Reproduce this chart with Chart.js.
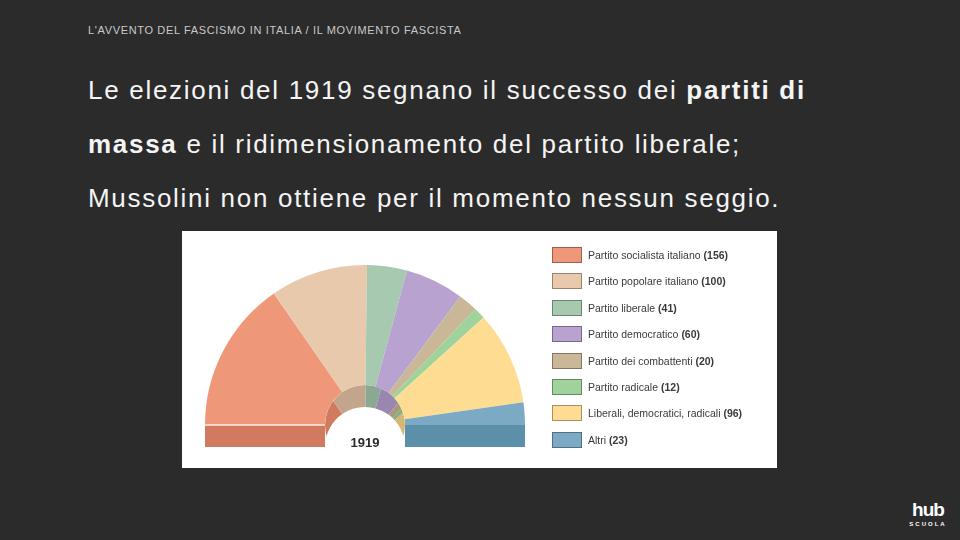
<!DOCTYPE html>
<html lang="it">
<head>
<meta charset="utf-8">
<title>Le elezioni del 1919</title>
<script src="https://cdn.jsdelivr.net/npm/chart.js@4.4.1/dist/chart.umd.min.js"></script>
<style>
  html, body { margin: 0; padding: 0; }
  body {
    width: 960px; height: 540px; overflow: hidden;
    background: #2b2b2b; position: relative;
    font-family: "Liberation Sans", Arial, sans-serif;
  }
  .header {
    position: absolute; left: 88px; top: 24px;
    font-size: 11px; line-height: 13px; color: #c9c9c9;
    letter-spacing: 0.65px; white-space: nowrap;
  }
  .lead {
    position: absolute; left: 88px; top: 63px;
    font-size: 26px; line-height: 54px; color: #f4f4f4;
    letter-spacing: 1.7px; white-space: nowrap;
  }
  .panel {
    position: absolute; left: 182px; top: 231px;
    width: 595px; height: 237px; background: #fff;
  }
  .panel canvas { position: absolute; left: 0; top: 0; }
  #legend {
    position: absolute; left: 370px; top: 10.8px;
    margin: 0; padding: 0; list-style: none;
    font-size: 10.5px; color: #3a3a3a;
  }
  #legend li { height: 26.4px; display: flex; align-items: center; }
  #legend .box {
    width: 28px; height: 14px; margin-right: 6px;
    border: 1px solid rgba(0, 0, 0, 0.35);
  }
  .logo {
    position: absolute; left: 906px; top: 500px; width: 44px;
    color: #fff; text-align: center;
  }
  .logo .hub { font-size: 19px; font-weight: bold; line-height: 20px; letter-spacing: -1px; }
  .logo .sc { font-size: 6px; font-weight: bold; letter-spacing: 2px; line-height: 8px; }
</style>
</head>
<body>
<div class="header">L'AVVENTO DEL FASCISMO IN ITALIA / IL MOVIMENTO FASCISTA</div>
<div class="lead">
  Le elezioni del 1919 segnano il successo dei <b>partiti di</b><br>
  <b>massa</b> e il ridimensionamento del partito liberale;<br>
  Mussolini non ottiene per il momento nessun seggio.
</div>

<div class="panel">
  <div style="position:absolute;left:0;top:0;width:595px;height:237px;">
    <canvas id="seatsChart"></canvas>
  </div>
  <ul id="legend"></ul>
</div>

<div class="logo"><div class="hub">hub</div><div class="sc">SCUOLA</div></div>

<script>
// seggi alla Camera, elezioni 1919
const parties = [
  'Partito socialista italiano',
  'Partito popolare italiano',
  'Partito liberale',
  'Partito democratico',
  'Partito dei combattenti',
  'Partito radicale',
  'Liberali, democratici, radicali',
  'Altri'
];
const seats = [156, 100, 41, 60, 20, 12, 96, 23];
const topColors = ['#ef9879', '#e9c9ac', '#a7c9af', '#b8a2cf', '#c9b797', '#a0d39b', '#fedd92', '#7caac5'];
const sideColors = ['#d27a5f', '#c2a58b', '#8ba893', '#9a87b0', '#a8987c', '#84b080', '#d5b676', '#5b8faa'];
const yearLabel = '1919';

// legend
const legend = document.getElementById('legend');
parties.forEach((name, i) => {
  const li = document.createElement('li');
  li.innerHTML = '<span class="box" style="background:' + topColors[i] + '"></span>' +
    '<span>' + name + ' <b>(' + seats[i] + ')</b></span>';
  legend.appendChild(li);
});

// fake 3D: inner wall seen through the hole + the two flat bottom faces
const extrude = {
  id: 'extrude',
  beforeDatasetsDraw(chart, args, opts) {
    const ctx = chart.ctx;
    const arcs = chart.getDatasetMeta(0).data;
    const first = arcs[0], last = arcs[arcs.length - 1];
    const d = opts.depth;

    ctx.save();
    ctx.beginPath();
    ctx.arc(first.x, first.y, first.innerRadius, 0, Math.PI * 2);
    ctx.clip();
    arcs.forEach((a, i) => {
      ctx.beginPath();
      ctx.arc(a.x, a.y + d, a.outerRadius, a.startAngle, a.endAngle);
      ctx.arc(a.x, a.y + d, a.innerRadius, a.endAngle, a.startAngle, true);
      ctx.closePath();
      ctx.fillStyle = sideColors[i];
      ctx.fill();
    });
    ctx.restore();

    ctx.save();
    ctx.fillStyle = sideColors[0];
    ctx.fillRect(first.x - first.outerRadius, first.y, first.outerRadius - first.innerRadius, d);
    ctx.fillStyle = sideColors[arcs.length - 1];
    ctx.fillRect(last.x + last.innerRadius, last.y, last.outerRadius - last.innerRadius, d);
    ctx.restore();
  },
  afterDatasetsDraw(chart, args, opts) {
    const ctx = chart.ctx;
    const a = chart.getDatasetMeta(0).data[0];
    ctx.save();
    // light edge between top face and side on the left
    ctx.strokeStyle = 'rgba(255,255,255,0.85)';
    ctx.lineWidth = 1.5;
    ctx.beginPath();
    ctx.moveTo(a.x - a.outerRadius, a.y);
    ctx.lineTo(a.x - a.innerRadius, a.y);
    ctx.stroke();
    // year in the middle
    ctx.fillStyle = '#2a2a2a';
    ctx.font = 'bold 13px "Liberation Sans", Arial, sans-serif';
    ctx.textAlign = 'center';
    ctx.textBaseline = 'alphabetic';
    ctx.fillText(yearLabel, a.x, a.y + opts.depth);
    ctx.restore();
  }
};

new Chart(document.getElementById('seatsChart'), {
  type: 'doughnut',
  data: {
    labels: parties,
    datasets: [{
      data: seats,
      backgroundColor: topColors,
      borderWidth: 0
    }]
  },
  options: {
    responsive: true,
    maintainAspectRatio: false,
    animation: false,
    rotation: -90,
    circumference: 180,
    cutout: '25%',
    layout: { padding: { left: 23, right: 252, top: 34, bottom: 43 } },
    plugins: {
      legend: { display: false },
      tooltip: { enabled: false },
      extrude: { depth: 22 }
    }
  },
  plugins: [extrude]
});
</script>
</body>
</html>
